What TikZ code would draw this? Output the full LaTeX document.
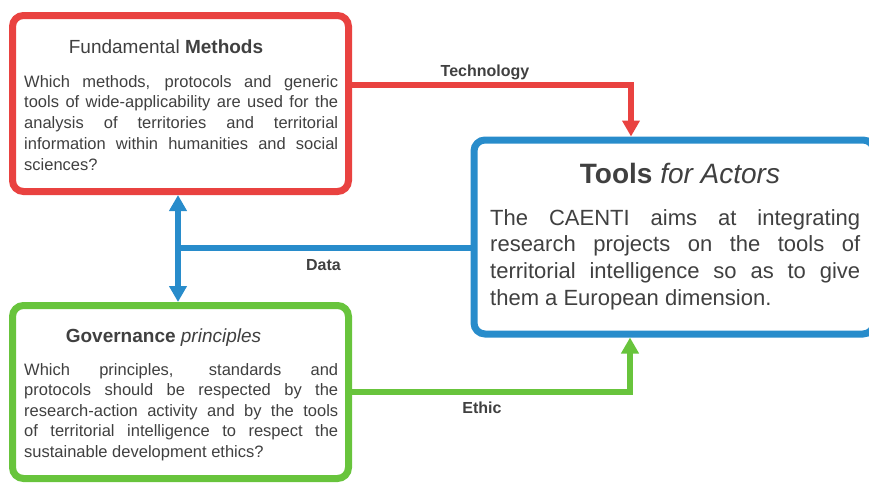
\documentclass[tikz,border=0pt]{standalone}
\usepackage{fontspec}
\setmainfont{Liberation Sans}
\usetikzlibrary{arrows.meta,positioning}
\definecolor{methodsred}{RGB}{233,66,64}
\definecolor{govgreen}{RGB}{104,196,60}
\definecolor{toolsblue}{RGB}{40,140,203}
\definecolor{textgray}{RGB}{64,64,64}
\tikzset{box/.style={draw,line width=7pt,rounded corners=11pt,fill=white,inner sep=0pt},
         boxtitle/.style={text=textgray,inner sep=0pt,anchor=base},
         boxtext/.style={text=textgray,align=justify,inner sep=0pt,anchor=north west},
         link/.style={line width=6pt,-{Triangle[width=17pt,length=16pt]}},
         linklabel/.style={text=textgray,inner sep=0pt,anchor=base,font=\fontsize{16}{19}\selectfont\bfseries}}
\hyphenpenalty=10000
\exhyphenpenalty=10000
\begin{document}
\begin{tikzpicture}[x=1pt,y=-1pt]
            \useasboundingbox (0,0) rectangle (869,483);
            % boxes
            \node[box,draw=methodsred,minimum width=336pt,minimum height=176pt] (methods) at (180.5,103.5) {};
            \node[box,draw=govgreen,minimum width=336pt,minimum height=173pt] (governance) at (180.5,392) {};
            \node[box,draw=toolsblue,minimum width=400pt,minimum height=194pt] (tools) at (674,237) {};
            % methods
            \node[boxtitle,font=\fontsize{19}{23}\selectfont] (methodstitle) at (166,53) {Fundamental \textbf{Methods}};
            \node[boxtext,text width=314pt,font=\fontsize{16.5}{20.8}\selectfont] (methodstext) at (24,75)
                {Which methods, protocols and generic\linebreak
                 tools of wide-applicability are used for the\linebreak
                 analysis of territories and territorial\linebreak
                 information within humanities and social\linebreak
                 sciences?};
            % governance
            \node[boxtitle,font=\fontsize{19}{23}\selectfont] (governancetitle) at (163.5,342) {\textbf{Governance} \textit{principles}};
            \node[boxtext,text width=314pt,font=\fontsize{16.5}{20.6}\selectfont] (governancetext) at (24,363)
                {Which principles, standards and\linebreak
                 protocols should be respected by the\linebreak
                 research-action activity and by the tools\linebreak
                 of territorial intelligence to respect the\linebreak
                 sustainable development ethics?};
            % tools
            \node[boxtitle,font=\fontsize{28}{32}\selectfont] (toolstitle) at (680,183) {\textbf{Tools} \textit{for Actors}};
            \node[boxtext,text width=370pt,font=\fontsize{22}{26.7}\selectfont] (toolstext) at (490,209)
                {The CAENTI aims at integrating\linebreak
                 research projects on the tools of\linebreak
                 territorial intelligence so as to give\linebreak
                 them a European dimension.};
            % technology
            \coordinate (techout) at ([yshift=18.5pt]methods.east);
            \coordinate (techin) at ([xshift=-43pt]tools.north);
            \draw[link,draw=methodsred,-{Triangle[width=17pt,length=16pt,fill=methodsred]}] (techout) -| (techin);
            \node[linklabel] (techlabel) at (485,76) {Technology};
            % data
            \coordinate (datajoin) at (178,248);
            \draw[line width=6pt,draw=toolsblue,{Triangle[width=17pt,length=16pt]}-{Triangle[width=17pt,length=16pt]}] ([xshift=-2.5pt]methods.south) -- ([xshift=-2.5pt]governance.north);
            \draw[line width=6pt,draw=toolsblue] ([yshift=-11pt]tools.west) -- (datajoin);
            \node[linklabel] (datalabel) at (323.5,270) {Data};
            % ethic
            \coordinate (ethicin) at ([xshift=-44pt]tools.south);
            \draw[link,draw=govgreen] (governance.east) -| (ethicin);
            \node[linklabel] (ethiclabel) at (482,413) {Ethic};
\end{tikzpicture}
\end{document}
